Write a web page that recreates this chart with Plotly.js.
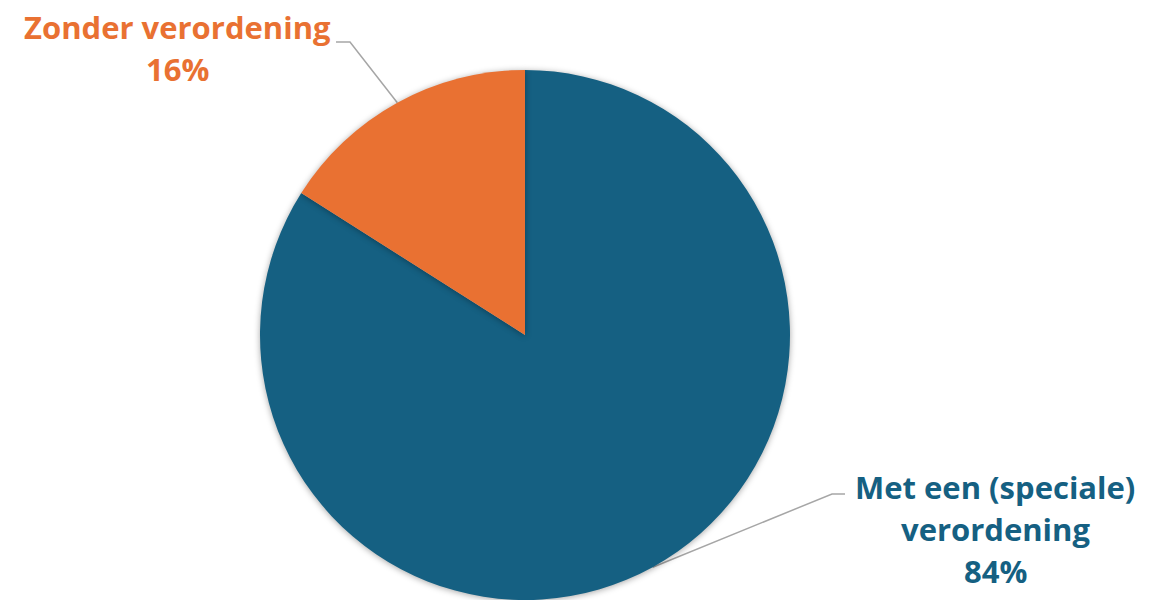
<!DOCTYPE html>
<html><head><meta charset="utf-8">
<script src="https://cdn.plot.ly/plotly-3.0.1.min.js"></script>
<style>html,body{margin:0;padding:0;background:#fff;overflow:hidden}#chart{width:1149px;height:600px}
.pielayer .slice path{filter:drop-shadow(0px 1px 3px rgba(0,0,0,0.35));}</style>
</head><body><div id="chart"></div>
<script>
var categories = ["Met een (speciale) verordening", "Zonder verordening"];
var labelLines = [["Met een (speciale)", "verordening"], ["Zonder verordening"]];
var values = [84, 16];
var colors = ["#156082", "#E97132"];

var W = 1149, H = 600;
var dom = {x: [260 / W, 790 / W], y: [0, 530 / H]};
var cx = 525, cy = 335, R = 265;
// label anchor (center x, top y of first line) and elbow positions, in pixels (layout)
var labelPos = [{x: 995, y: 464, side: "left", ex: 845, ey: 494, bx: 832},
                {x: 177, y: 4, side: "right", ex: 336, ey: 42, bx: 350}];
var total = values.reduce(function(a, b){return a + b;}, 0);
var fontFam = "'Open Sans', 'Liberation Sans', sans-serif";
var annotations = [], shapes = [];
var cum = 0;
values.forEach(function(v, i){
  var mid = (cum + v / 2) / total * 2 * Math.PI; // clockwise from top
  cum += v;
  var px = cx + R * Math.sin(mid), py = cy - R * Math.cos(mid);
  var lp = labelPos[i];
  var lines = labelLines[i].concat([v + "%"]);
  lines.forEach(function(t, k){
    annotations.push({xref: "paper", yref: "paper", x: lp.x / W, y: 1 - (lp.y + k * 42) / H,
      xanchor: "center", yanchor: "top", showarrow: false, text: "<b>" + t + "</b>",
      font: {family: fontFam, size: 31, color: colors[i]}});
  });
  shapes.push({type: "path", xref: "paper", yref: "paper", layer: "below",
    path: "M" + (px / W) + "," + (1 - py / H) + " L" + (lp.bx / W) + "," + (1 - lp.ey / H) + " L" + (lp.ex / W) + "," + (1 - lp.ey / H),
    line: {color: "#A6A6A6", width: 1.5}});
});

Plotly.newPlot("chart", [{
  type: "pie", labels: categories, values: values, sort: false, direction: "clockwise", rotation: 0,
  marker: {colors: colors, line: {width: 0}}, textinfo: "none", hoverinfo: "label+percent",
  domain: dom, showlegend: false
}], {
  width: W, height: H, margin: {l: 0, r: 0, t: 0, b: 0},
  paper_bgcolor: "#fff", plot_bgcolor: "#fff",
  annotations: annotations, shapes: shapes, showlegend: false
}, {displayModeBar: false, staticPlot: true});
</script></body></html>
